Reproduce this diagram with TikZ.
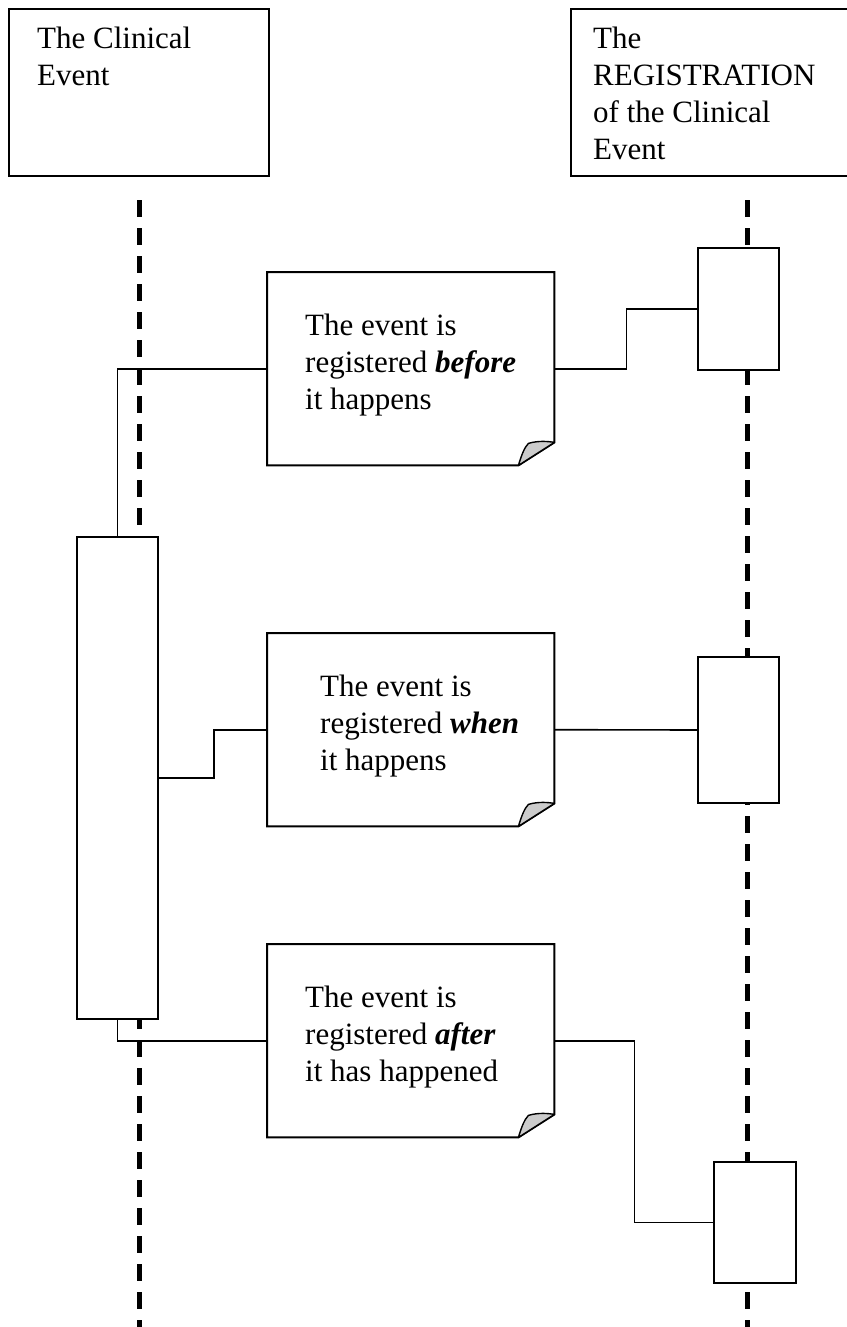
\documentclass[tikz,border=0pt]{standalone}
\usepackage{fontspec}
\setmainfont{Liberation Serif}
\begin{document}
\begin{tikzpicture}[x=1pt,y=-1pt,
  boxline/.style={draw=black,line width=2pt},
  hdrbox/.style={boxline,fill=white,minimum width=#1,minimum height=167pt,inner sep=0pt,anchor=north west},
  actbox/.style={boxline,fill=white,inner sep=0pt,anchor=north west},
  notearea/.style={draw=none,inner sep=0pt,minimum width=287pt,minimum height=193pt,anchor=north west},
  txt/.style={font=\fontsize{31}{37}\selectfont,align=left,inner sep=0pt,anchor=north west},
  conn/.style={draw=black,line width=1.6pt},
  lifeline/.style={draw=black,line width=5pt,dash pattern=on 17pt off 11pt},
  flapfill/.style={draw=black,line width=1.4pt,fill=black!20,line join=round}]
\useasboundingbox (0,0) rectangle (846,1327);
\fill[white] (0,0) rectangle (846,1327);

% header boxes
\node[hdrbox=260pt] (ce) at (8,8) {};
\node[hdrbox=278pt] (reg) at (570,8) {};
\node[txt] (cetxt) at (37,48-25.9) {\strut The Clinical\\Event};
\node[txt] (regtxt) at (593,48-25.9) {\strut The\\REGISTRATION\\of the Clinical\\Event};

% note areas
\node[notearea] (n1) at (267,272) {};
\node[notearea] (n2) at (267,633) {};
\node[notearea] (n3) at (267,944) {};

% activation boxes
\coordinate (lbpos) at (77,537);
\node[actbox,minimum width=79pt,minimum height=480pt] (lb) at (77,537) {};
\node[actbox,minimum width=79pt,minimum height=120pt] (r1) at (698,248) {};
\node[actbox,minimum width=79pt,minimum height=144pt] (r2) at (698,657) {};
\node[actbox,minimum width=80pt,minimum height=119pt] (r3) at (714,1162) {};

% connectors
\draw[conn] (lb.north) |- (n1.west);
\draw[conn] (n1.east) -- ++(72,0) |- (r1.west);
\draw[conn] (lb.east) -- ++(56,0) |- (n2.west);
\draw[conn] (n2.east) -- (r2.west);
\draw[conn] (lb.south) |- (n3.west);
\draw[conn] (n3.east) -- ++(80,0) |- (r3.west);

% lifelines
\coordinate (l1a) at (139,200);
\coordinate (l1b) at (139,1330);
\coordinate (l2a) at (747,200);
\coordinate (l2b) at (747,1330);
\draw[lifeline] (l1a) -- (l1b);
\draw[lifeline] (l2a) -- (l2b);

% redraw activation boxes on top
\foreach \b in {lb,r1,r2,r3}{
  \fill[white] (\b.north west) rectangle (\b.south east);
  \draw[boxline] (\b.north west) rectangle (\b.south east);
}

% notes with folded corner
\foreach \n in {n1,n2,n3}{
  \draw[boxline,fill=white,line join=miter]
    (\n.north west) -- (\n.north east) -- ([yshift=23pt]\n.south east)
    -- ([xshift=-36pt]\n.south east) -- (\n.south west) -- cycle;
  \draw[flapfill] ([xshift=-36pt]\n.south east)
    .. controls ([xshift=-33pt,yshift=10pt]\n.south east) and ([xshift=-30pt,yshift=18pt]\n.south east) .. ([xshift=-26pt,yshift=22pt]\n.south east)
    .. controls ([xshift=-16pt,yshift=25pt]\n.south east) and ([xshift=-6pt,yshift=24pt]\n.south east) .. ([yshift=23pt]\n.south east)
    -- cycle;
}

% note texts
\node[txt] (t1) at (305,335-25.9) {\strut The event is\\registered \textbf{\textit{before}}\\it happens};
\node[txt] (t2) at (320,696-25.9) {\strut The event is\\registered \textbf{\textit{when}}\\it happens};
\node[txt] (t3) at (305,1007-25.9) {\strut The event is\\registered \textbf{\textit{after}}\\it has happened};
\end{tikzpicture}
\end{document}
